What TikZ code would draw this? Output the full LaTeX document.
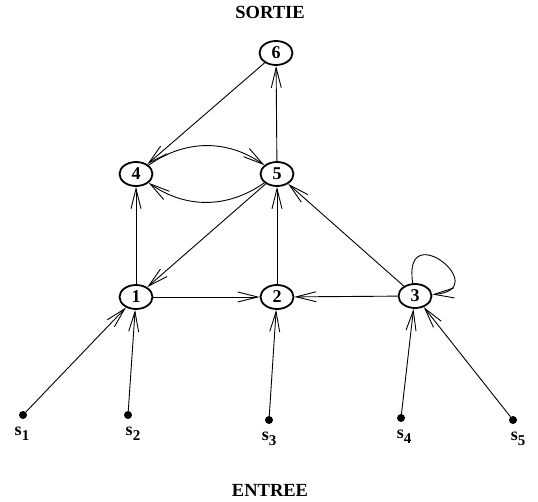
\documentclass[tikz,border=0pt]{standalone}
\usepackage{fontspec}
\setmainfont{Liberation Serif}
\usetikzlibrary{arrows.meta,shapes.geometric}
\newcommand{\subsc}[1]{\raisebox{-4.5pt}{\fontsize{15}{17}\selectfont #1}}
\begin{document}
\begin{tikzpicture}[x=1pt,y=-1pt,
  vertex/.style={ellipse,draw,line width=1.8pt,minimum width=33pt,minimum height=24pt,inner sep=0pt,font=\fontsize{18}{20}\selectfont\bfseries},
  src/.style={circle,fill,inner sep=0pt,minimum size=8pt},
  lbl/.style={font=\fontsize{18}{20}\selectfont\bfseries},
  ttl/.style={font=\fontsize{18.5}{21}\selectfont\bfseries},
  arr/.style={line width=0.9pt,-{Straight Barb[length=20pt,width=10pt,line width=0.9pt]}}]
\useasboundingbox (0,0) rectangle (538,502);
\node[ttl] (sortie) at (270,12.5) {SORTIE};
\node[ttl] (entree) at (270,490) {ENTREE};
\node[vertex] (n6) at (276,53) {6};
\node[vertex] (n4) at (136,174) {4};
\node[vertex] (n5) at (277,174) {5};
\node[vertex] (n1) at (136,297) {1};
\node[vertex] (n2) at (277,297) {2};
\node[vertex] (n3) at (415,296) {3};
\node[src] (s1) at (23,415) {};
\node[src] (s2) at (128,415) {};
\node[src] (s3) at (269,420) {};
\node[src] (s4) at (401,418) {};
\node[src] (s5) at (513,420) {};
\node[lbl] (l1) at (22,434) {s\subsc{1}};
\node[lbl] (l2) at (133,434) {s\subsc{2}};
\node[lbl] (l3) at (269,439) {s\subsc{3}};
\node[lbl] (l4) at (404,437) {s\subsc{4}};
\node[lbl] (l5) at (518,439) {s\subsc{5}};
\draw[arr] (n6) -- (n4);
\draw[arr] (n5) -- (n6);
\draw[arr] (n4) to[bend left=35] (n5);
\draw[arr] (n5) to[bend left=35] (n4);
\draw[arr] (n1) -- (n4);
\draw[arr] (n5) -- (n1);
\draw[arr] (n2) -- (n5);
\draw[arr] (n3) -- (n5);
\draw[arr] (n1) -- (n2);
\draw[arr] (n3) -- (n2);
\draw[arr] (n3.100) .. controls (402,215) and (495,290) .. (n3.5);
\draw[arr] (s1) -- (n1);
\draw[arr] (s2) -- (n1);
\draw[arr] (s3) -- (n2);
\draw[arr] (s4) -- (n3);
\draw[arr] (s5) -- (n3);
\end{tikzpicture}
\end{document}
